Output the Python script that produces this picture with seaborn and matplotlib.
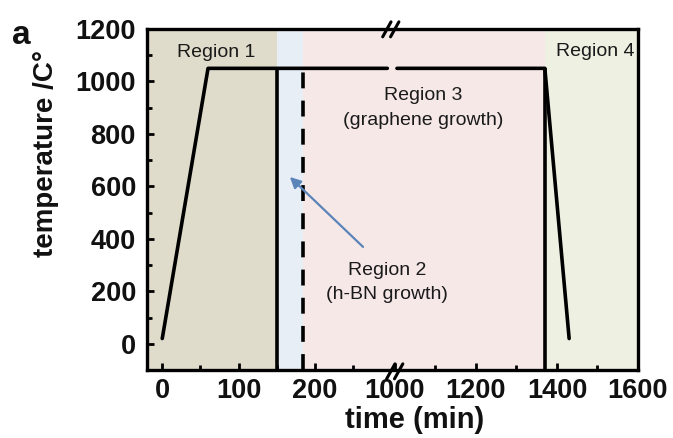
import numpy as np
import pandas as pd
import matplotlib
matplotlib.use("Agg")
import matplotlib.pyplot as plt
from matplotlib.ticker import FixedLocator
import seaborn as sns

# ---------------- data ----------------
seg_A_time = [0, 60, 295]          # heating ramp + plateau (before break)
seg_A_temp = [20, 1050, 1050]
seg_B_time = [1005, 1370, 1430]    # plateau (after break) + cooling
seg_B_temp = [1050, 1050, 20]
plateau_temp = 1050
solid_boundaries = [150, 1370]
dashed_boundaries = [185]
region_edges = [-20, 150, 185, 1370, 1600]
region_colors = ["#e0dccb", "#e7eef6", "#f7e8e8", "#eef0e2"]
x_major = [0, 100, 200, 1000, 1200, 1400, 1600]
x_major_labels = ["0", "100", "200", "1000", "1200", "1400", "1600"]
x_minor = [50, 150, 250, 1100, 1300, 1500]
y_major = [0, 200, 400, 600, 800, 1000, 1200]
y_minor = [100, 300, 500, 700, 900, 1100]

# ---------------- style ----------------
sns.set_theme(style="ticks")
plt.rcParams["font.family"] = ["Liberation Sans", "DejaVu Sans"]

fig = plt.figure(figsize=(6.73, 4.38), dpi=100)
ax = fig.add_axes([147 / 673, 1 - 370 / 438, 491 / 673, 341 / 438])

# broken x axis via a piecewise scale
B, R = 305.0, 0.531
def fwd(x):
    x = np.asarray(x, dtype=float)
    return np.where(x <= B, x, np.where(x >= 1000, B + (x - 1000) * R, B))
def inv(y):
    y = np.asarray(y, dtype=float)
    return np.where(y <= B, y, 1000 + (y - B) / R)
ax.set_xscale("function", functions=(fwd, inv))
ax.set_xlim(region_edges[0], region_edges[-1])
ax.set_ylim(-100, 1200)

# background regions
for lo, hi, c in zip(region_edges[:-1], region_edges[1:], region_colors):
    ax.axvspan(lo, hi, color=c, lw=0, zorder=0)

# temperature profile
df = pd.DataFrame({
    "time": seg_A_time + seg_B_time,
    "temp": seg_A_temp + seg_B_temp,
    "seg": ["A"] * len(seg_A_time) + ["B"] * len(seg_B_time),
})
sns.lineplot(data=df, x="time", y="temp", units="seg", estimator=None,
             sort=False, color="black", lw=2.6, ax=ax, zorder=3)

ax.vlines(solid_boundaries, -100, plateau_temp, color="black", lw=2.6, zorder=3)
ax.vlines(dashed_boundaries, -100, plateau_temp, color="black", lw=2.6,
          linestyles=[(0, (4.4, 3.4))], zorder=3)

# ticks
ax.xaxis.set_major_locator(FixedLocator(x_major))
ax.xaxis.set_minor_locator(FixedLocator(x_minor))
ax.set_xticklabels(x_major_labels)
ax.yaxis.set_major_locator(FixedLocator(y_major))
ax.yaxis.set_minor_locator(FixedLocator(y_minor))
ax.tick_params(which="both", direction="in", color="black", width=2,
               top=False, right=False)
ax.tick_params(which="major", length=5)
ax.tick_params(which="minor", length=3.5)
ax.tick_params(axis="y", which="major", pad=8, labelsize=19.5)
ax.tick_params(axis="x", which="major", pad=6, labelsize=19.5)
for lab in ax.get_xticklabels() + ax.get_yticklabels():
    lab.set_fontweight("bold")
    lab.set_color("#111111")

for s in ax.spines.values():
    s.set_linewidth(2.4)
    s.set_color("black")
    s.set_visible(True)

ax.set_xlabel("time (min)", fontsize=21, fontweight="bold", color="#111111",
              va="center")
ax.set_ylabel("temperature /C°", fontsize=20, fontweight="bold", color="#111111",
              va="center")
ax.xaxis.set_label_coords(0.546, -0.147)
ax.yaxis.set_label_coords(-0.205, 0.635)

# break marks
for dx in (0.0, 0.016):
    ax.plot([0.480 + dx, 0.497 + dx], [0.977, 1.021], transform=ax.transAxes,
            color="black", lw=2.2, clip_on=False, zorder=5)
    ax.plot([0.488 + dx, 0.505 + dx], [-0.026, 0.018], transform=ax.transAxes,
            color="black", lw=2.2, clip_on=False, zorder=5)

# annotations
tkw = dict(transform=ax.transAxes, ha="center", va="center", fontsize=14,
           color="#1a1a1a", zorder=4)
ax.text(0.1405, 0.930, "Region 1", **tkw)
ax.text(0.562, 0.806, "Region 3", **tkw)
ax.text(0.562, 0.733, "(graphene growth)", **tkw)
ax.text(0.489, 0.293, "Region 2", **tkw)
ax.text(0.489, 0.220, "(h-BN growth)", **tkw)
ax.text(0.912, 0.933, "Region 4", **tkw)
ax.annotate("", xy=(0.291, 0.566), xytext=(0.440, 0.361),
            xycoords="axes fraction", textcoords="axes fraction",
            arrowprops=dict(arrowstyle="-|>", color="#5b84b9", lw=1.6,
                            mutation_scale=16, shrinkA=0, shrinkB=0), zorder=4)

fig.text(21 / 673, 1 - 36 / 438, "a", fontsize=24, fontweight="bold",
         ha="center", va="center", color="#111111")

fig.savefig("out.png", dpi=100)
